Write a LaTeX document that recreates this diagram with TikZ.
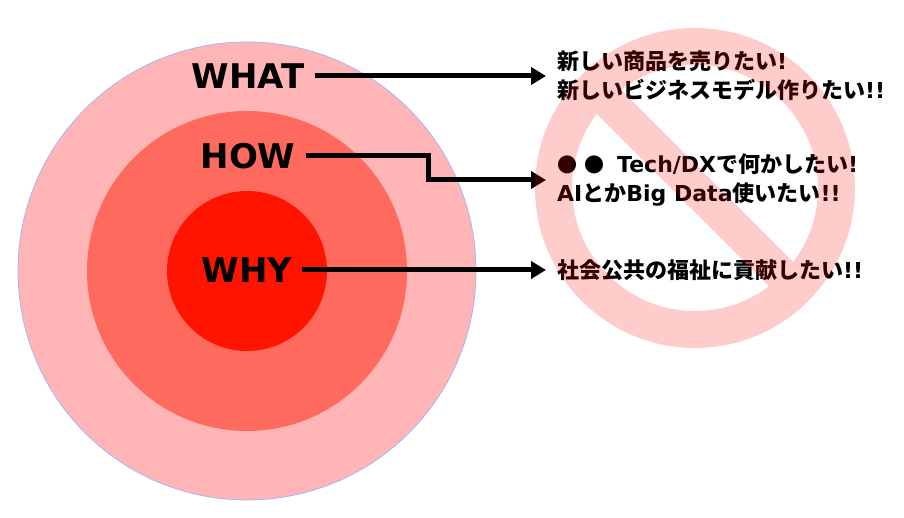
\documentclass[tikz,border=0pt]{standalone}
\usepackage{fontspec}
\setmainfont{DejaVu Sans}
\newfontfamily\jp{Noto Sans CJK JP Bold}
\usetikzlibrary{arrows.meta,positioning}
\definecolor{ringout}{RGB}{255,181,181}
\definecolor{ringmid}{RGB}{255,106,94}
\definecolor{ringin}{RGB}{255,20,0}
\definecolor{rimblue}{RGB}{160,180,255}

\begin{document}
\begin{tikzpicture}[x=1pt,y=1pt,
    lbl/.style={font=\fontsize{34}{34}\selectfont\bfseries,inner xsep=10pt,inner ysep=0pt},
    say/.style={font=\fontsize{22}{29}\selectfont\bfseries,align=left,anchor=west,inner xsep=10pt,inner ysep=0pt},
    arr/.style={line width=5pt,-{Triangle[length=15pt,width=17pt]},shorten >=1pt}]
   \useasboundingbox (0,0) rectangle (904,518);
   \coordinate (core) at (247,247);
   \coordinate (ban) at (695,330);

   % golden circle
   \fill[ringout,draw=rimblue,line width=0.75pt] (core) circle (229pt);
   \fill[ringmid] (core) circle (160pt);
   \fill[ringin] (core) circle (80pt);

   \node[lbl] (what) at (248,442) {WHAT};
   \node[lbl] (how)  at (248,362) {HOW};
   \node[lbl] (why)  at (247,248) {WHY};

   \node[say] (whatsay) at (547,442) {{\jp 新しい商品を売りたい}!\\{\jp 新しいビジネスモデル作りたい}!!};
   \node[say] (howsay)  at (547,338) {{\jp\fontsize{20}{20}\selectfont ●\hspace{7pt}●}\hspace{13pt}Tech/DX{\jp で何かしたい}!\\AI{\jp とか}Big Data{\jp 使いたい}!!};
   \node[say] (whysay)  at (547,248) {{\jp 社会公共の福祉に貢献したい}!!};

   \draw[arr] (what.east) -- (whatsay.west);
   \draw[arr] (how.east) -- ++(123pt,0) |- (howsay.west);
   \draw[arr] (why.east) -- (whysay.west);

   % no sign
   \begin{scope}[red,fill opacity=0.2,draw opacity=0.2]
     \fill[even odd rule] (ban) circle (160pt) (ban) circle (123pt);
     \clip (ban) circle (123pt);
     \draw[line width=34pt] ([shift={(135:130pt)}]ban) -- ([shift={(-45:130pt)}]ban);
   \end{scope}
\end{tikzpicture}
\end{document}
